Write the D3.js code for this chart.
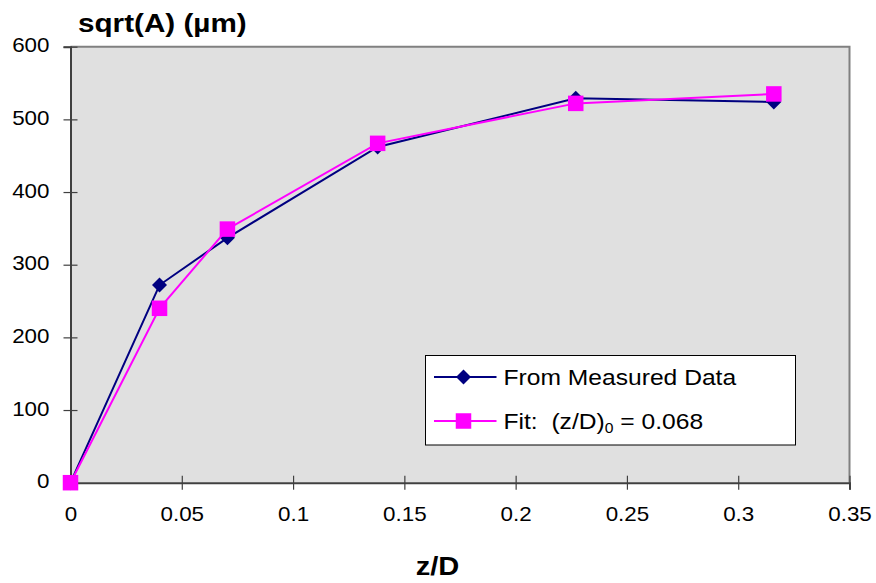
<!DOCTYPE html>
<html>
<head>
<meta charset="utf-8">
<script src="https://cdn.jsdelivr.net/npm/d3@7"></script>
<style>
  body { margin: 0; background: #ffffff; }
  text { font-family: "Liberation Sans", Arial, sans-serif; fill: #000; }
</style>
</head>
<body>
<script>
// data
var zD = [0, 0.04, 0.0705, 0.138, 0.227, 0.316];
var measured = [0, 272, 337, 462, 529, 524];
var fit = [0, 240, 349, 467, 522, 535];
var seriesNames = ["From Measured Data", "Fit:  (z/D)"];
var xTicks = [0, 0.05, 0.1, 0.15, 0.2, 0.25, 0.3, 0.35];
var xTickLabels = ["0", "0.05", "0.1", "0.15", "0.2", "0.25", "0.3", "0.35"];
var yTicks = [0, 100, 200, 300, 400, 500, 600];
var yTickLabels = ["0", "100", "200", "300", "400", "500", "600"];

var WIDTH = 876, HEIGHT = 583;
var PLOT_LEFT = 70.5, PLOT_RIGHT = 849.5, PLOT_TOP = 46.7, PLOT_BOTTOM = 482.7;
var NAVY = "#000080", MAGENTA = "#ff00ff";
var SX = 1.12;  // horizontal stretch of text in the original

var svg = d3.select("body").append("svg")
            .attr("width", WIDTH)
            .attr("height", HEIGHT);

var x = d3.scaleLinear().domain([0, 0.35]).range([PLOT_LEFT, PLOT_RIGHT]);
var y = d3.scaleLinear().domain([0, 600]).range([PLOT_BOTTOM, PLOT_TOP]);

// plot background
svg.append("rect")
   .attr("x", PLOT_LEFT)
   .attr("y", PLOT_TOP)
   .attr("width", PLOT_RIGHT - PLOT_LEFT)
   .attr("height", PLOT_BOTTOM - PLOT_TOP)
   .style("fill", "#e0e0e0")
   .style("stroke", "none");

// top and right border
svg.append("path")
   .attr("d", "M" + PLOT_LEFT + "," + PLOT_TOP + "H" + PLOT_RIGHT + "V" + PLOT_BOTTOM)
   .style("fill", "none")
   .style("stroke", "#808080")
   .style("stroke-width", 2);

// axes
var yAxis = svg.append("g")
               .attr("transform", "translate(" + PLOT_LEFT + ",0)")
               .call(d3.axisLeft(y).tickValues(yTicks).tickSize(7).tickPadding(14)
                       .tickFormat(function(d, i) { return yTickLabels[i]; }));
var xAxis = svg.append("g")
               .attr("transform", "translate(0," + PLOT_BOTTOM + ")")
               .call(d3.axisBottom(x).tickValues(xTicks).tickSize(7).tickPadding(17)
                       .tickFormat(function(d, i) { return xTickLabels[i]; }));

[yAxis, xAxis].forEach(function(g)
{
  g.select(".domain").style("stroke", "#404040").style("stroke-width", 2);
  g.selectAll(".tick line").style("stroke", "#404040").style("stroke-width", 1.2);
  g.selectAll(".tick text")
   .style("font-family", "'Liberation Sans', Arial, sans-serif")
   .style("font-size", "20px")
   .style("fill", "#000");
});
yAxis.selectAll(".tick line").attr("x1", 7);
xAxis.selectAll(".tick line").attr("y1", -7);
yAxis.selectAll(".tick text")
     .attr("dy", "0.25em")
     .attr("transform", "scale(" + SX + ",1)")
     .attr("x", function() { return +this.getAttribute("x") / SX; });
xAxis.selectAll(".tick text").attr("transform", "scale(" + SX + ",1)");

// axis titles
function stretchedText(px, py, str, size, weight, anchor)
{
  return svg.append("text")
            .attr("transform", "translate(" + px + "," + py + ") scale(" + SX + ",1)")
            .attr("text-anchor", anchor)
            .style("font-size", size + "px")
            .style("font-weight", weight)
            .text(str);
}
stretchedText(78, 31.5, "sqrt(A) (µm)", 26.5, "bold", "start");
stretchedText(437.5, 575, "z/D", 26, "bold", "middle");

// series
var line = d3.line()
             .x(function(d) { return x(d[0]); })
             .y(function(d) { return y(d[1]); });

var measuredPts = zD.map(function(v, i) { return [v, measured[i]]; });
var fitPts = zD.map(function(v, i) { return [v, fit[i]]; });

var diamond = "M0,-7.5L7.5,0L0,7.5L-7.5,0Z";

svg.append("path")
   .datum(measuredPts)
   .attr("d", line)
   .style("fill", "none")
   .style("stroke", NAVY)
   .style("stroke-width", 2);
svg.selectAll(".measured_marker")
   .data(measuredPts)
   .enter().append("path")
   .attr("class", "measured_marker")
   .attr("transform", function(d) { return "translate(" + x(d[0]) + "," + y(d[1]) + ")"; })
   .attr("d", diamond)
   .style("fill", NAVY);

svg.append("path")
   .datum(fitPts)
   .attr("d", line)
   .style("fill", "none")
   .style("stroke", MAGENTA)
   .style("stroke-width", 2);
svg.selectAll(".fit_marker")
   .data(fitPts)
   .enter().append("rect")
   .attr("class", "fit_marker")
   .attr("x", function(d) { return x(d[0]) - 7.75; })
   .attr("y", function(d) { return y(d[1]) - 7.75; })
   .attr("width", 15.5)
   .attr("height", 15.5)
   .style("fill", MAGENTA);

// legend
var legend = svg.append("g").attr("transform", "translate(425.5,355.5)");
legend.append("rect")
      .attr("width", 370)
      .attr("height", 89.5)
      .style("fill", "#ffffff")
      .style("stroke", "#000")
      .style("stroke-width", 1);

var rows = [{ name: seriesNames[0], color: NAVY, cy: 21.5 },
            { name: seriesNames[1], color: MAGENTA, cy: 65.5 }];
rows.forEach(function(r, i)
{
  legend.append("line")
        .attr("x1", 8.5).attr("x2", 71)
        .attr("y1", r.cy).attr("y2", r.cy)
        .style("stroke", r.color)
        .style("stroke-width", 2);
  if (i == 0)
    legend.append("path")
          .attr("transform", "translate(38," + r.cy + ")")
          .attr("d", diamond)
          .style("fill", r.color);
  else
    legend.append("rect")
          .attr("x", 38 - 7.75).attr("y", r.cy - 7.75)
          .attr("width", 15.5).attr("height", 15.5)
          .style("fill", r.color);
});

var t1 = legend.append("text")
               .attr("transform", "translate(78,29.5) scale(" + SX + ",1)")
               .style("font-size", "22px")
               .text(seriesNames[0]);
var t2 = legend.append("text")
               .attr("transform", "translate(78,73.5) scale(" + SX + ",1)")
               .style("font-size", "22px")
               .style("white-space", "pre");
t2.append("tspan").text(seriesNames[1]);
t2.append("tspan").attr("dy", 4).style("font-size", "14px").text("0");
t2.append("tspan").attr("dy", -4).text(" = 0.068");
</script>
</body>
</html>
